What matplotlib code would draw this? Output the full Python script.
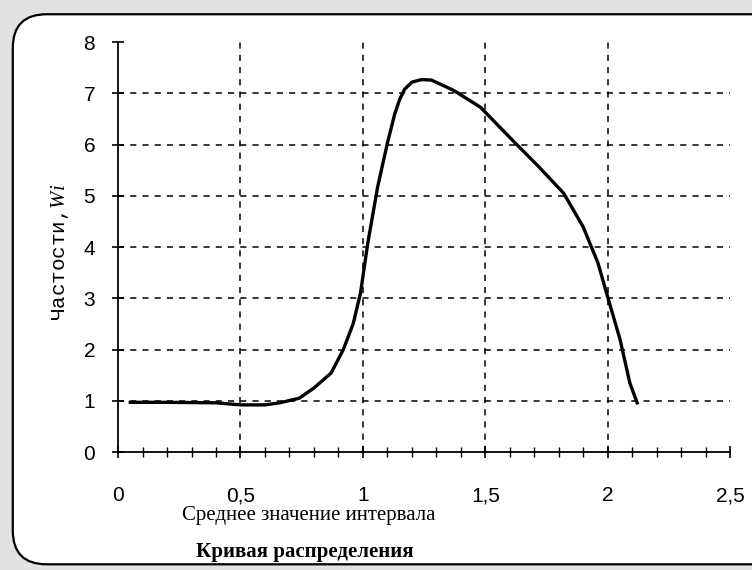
import matplotlib.pyplot as plt
from matplotlib.patches import FancyBboxPatch
from matplotlib.ticker import MultipleLocator

plt.rcParams['font.family'] = 'Liberation Sans'
plt.rcParams['mathtext.fontset'] = 'custom'
plt.rcParams['mathtext.it'] = 'Liberation Serif:italic'

# curve
x_vals = [0.05, 0.2, 0.4, 0.5, 0.6, 0.66, 0.74, 0.8, 0.87, 0.92, 0.96, 0.99, 1.02,
          1.06, 1.10, 1.13, 1.15, 1.17, 1.20, 1.24, 1.28, 1.37, 1.48, 1.61, 1.72,
          1.82, 1.90, 1.96, 2.0, 2.05, 2.09, 2.12]
y_vals = [0.97, 0.97, 0.96, 0.92, 0.92, 0.96, 1.05, 1.25, 1.54, 2.0, 2.5, 3.1, 4.08,
          5.17, 6.03, 6.6, 6.88, 7.08, 7.22, 7.27, 7.26, 7.06, 6.73, 6.09, 5.56,
          5.05, 4.39, 3.69, 3.02, 2.2, 1.35, 0.96]

x_ticks = [0, 0.5, 1, 1.5, 2, 2.5]
x_tick_labels = ["0", "0,5", "1", "1,5", "2", "2,5"]

x_label = "Среднее значение интервала"
y_label = "Частости,$Wi$"
title = "Кривая распределения"

fig = plt.figure(figsize=(7.52, 5.70), dpi=100)
fig.patch.set_facecolor('#e2e2e2')

box = FancyBboxPatch((0.017, 0.01), 1.1, 0.965, boxstyle="round,pad=0,rounding_size=0.045",
                     transform=fig.transFigure, facecolor='white', edgecolor='black',
                     linewidth=1.6, mutation_aspect=752 / 570, zorder=-5)
fig.patches.append(box)

ax = fig.add_axes([0.157, 0.207, 0.814, 0.719])
ax.set_facecolor('none')
ax.plot(x_vals, y_vals, color='black', linewidth=2.4, zorder=3,
        solid_joinstyle='round')

ax.set_xlim(0, 2.5)
ax.set_ylim(0, 8)
ax.set_xticks(x_ticks, x_tick_labels)
ax.xaxis.set_minor_locator(MultipleLocator(0.1))
ax.yaxis.set_major_locator(MultipleLocator(1))

for v in x_ticks[1:-1]:
    ax.axvline(v, color='black', linestyle=(0, (4, 4)), linewidth=1.1)
for v in range(1, 8):
    ax.axhline(v, color='black', linestyle=(0, (4, 4)), linewidth=1.1)

for s in ['top', 'right']:
    ax.spines[s].set_visible(False)
for s in ['left', 'bottom']:
    ax.spines[s].set_linewidth(1.3)

ax.tick_params(axis='both', which='major', direction='inout', length=9, width=1.2,
               labelsize=15, pad=12)
ax.tick_params(axis='x', which='minor', direction='inout', length=7, width=1.0)
ax.tick_params(axis='x', which='major', pad=31)
for lab in ax.get_xticklabels():
    lab.set_verticalalignment('baseline')

fig.text(0.41, 0.095, x_label, ha='center', va='center', fontsize=15,
         family='Liberation Serif')
fig.text(0.405, 0.031, title, ha='center', va='center', fontsize=15,
         family='Liberation Serif', fontweight='bold')
fig.text(0.08, 0.558, y_label, ha='center', va='center', fontsize=15, rotation=90,
         family='Liberation Mono')

fig.savefig('out.png', dpi=100, facecolor=fig.get_facecolor())
